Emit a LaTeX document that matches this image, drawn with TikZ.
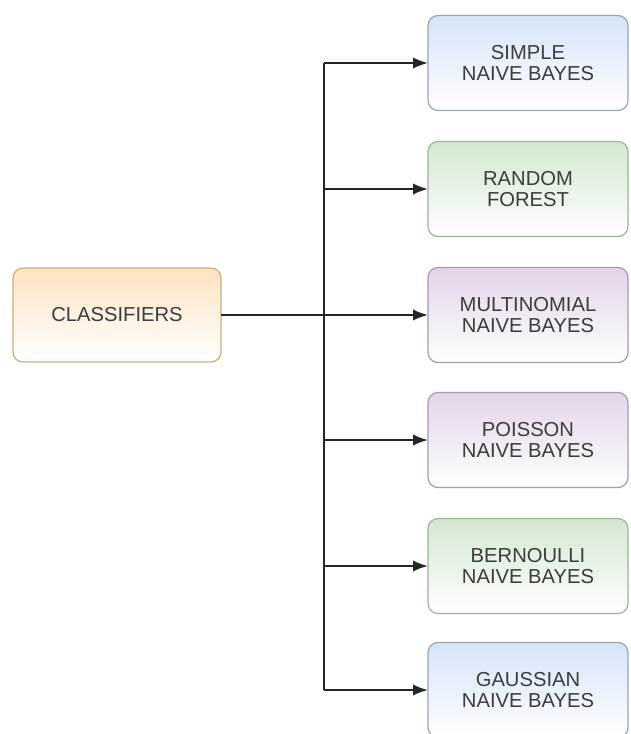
\documentclass[tikz,border=0pt]{standalone}
\usepackage{fontspec}
\setmainfont{Liberation Sans}
\usetikzlibrary{arrows.meta}

\definecolor{txtgray}{HTML}{3C3C3C}
\definecolor{orgtop}{HTML}{FCE3C4}
\definecolor{orgline}{HTML}{C9B078}
\definecolor{blutop}{HTML}{D6E4F8}
\definecolor{bluline}{HTML}{9AA6B6}
\definecolor{grntop}{HTML}{D3E8D0}
\definecolor{grnline}{HTML}{9DB49A}
\definecolor{purtop}{HTML}{E2D4E8}
\definecolor{purline}{HTML}{A99AAF}

\tikzset{
    box/.style={rounded corners=0.2cm, line width=0.7pt, inner sep=0pt, outer sep=0pt,
        minimum width=4cm, minimum height=1.9cm, align=center, text=txtgray,
        font=\fontsize{11.5}{11.5}\selectfont, bottom color=white},
    bluebox/.style={box, draw=bluline, top color=blutop},
    greenbox/.style={box, draw=grnline, top color=grntop},
    purplebox/.style={box, draw=purline, top color=purtop},
    link/.style={line width=1.2pt, black!85},
    arrow/.style={link, -{Latex[length=8.5pt, width=6.5pt]}}
}

\begin{document}
\begin{tikzpicture}[x=0.02cm, y=-0.02cm]
    % page frame, same size as the original picture
    \useasboundingbox (0,0) rectangle (630,734);

    % root node on the left
    \node[box, draw=orgline, top color=orgtop, minimum width=4.16cm, minimum height=1.88cm]
        (cls) at (117,315) {CLASSIFIERS};

    % the six classifiers on the right
    \node[bluebox]   (simple)  at (528,63)  {SIMPLE\\NAIVE BAYES};
    \node[greenbox]  (forest)  at (528,189) {RANDOM\\FOREST};
    \node[purplebox] (multi)   at (528,315) {MULTINOMIAL\\NAIVE BAYES};
    \node[purplebox] (poisson) at (528,440) {POISSON\\NAIVE BAYES};
    \node[greenbox]  (bern)    at (528,566) {BERNOULLI\\NAIVE BAYES};
    \node[bluebox]   (gauss)   at (528,690) {GAUSSIAN\\NAIVE BAYES};

    % trunk line and branches
    \coordinate (split) at (324,315);
    \draw[link] (cls.east) -- (split);
    \draw[link] (split |- simple.west) -- (split |- gauss.west);
    \foreach \n in {simple, forest, multi, poisson, bern, gauss}
        \draw[arrow] (split |- \n.west) -- (\n.west);
\end{tikzpicture}
\end{document}
